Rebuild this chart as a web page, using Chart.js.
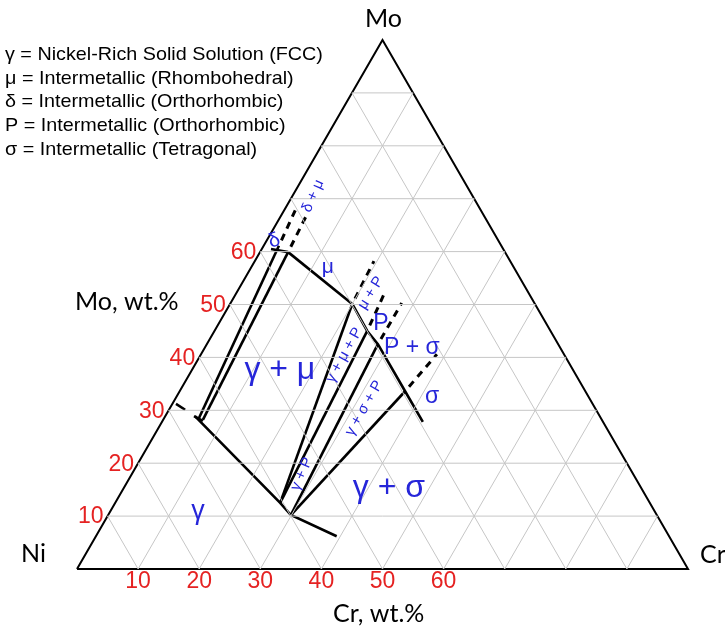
<!DOCTYPE html>
<html>
<head>
<meta charset="utf-8">
<script src="https://cdn.jsdelivr.net/npm/chart.js@4.4.1/dist/chart.umd.min.js"></script>
<style>
html,body{margin:0;padding:0;background:#fff;}
canvas{display:block;}
</style>
</head>
<body>
<canvas id="c" width="725" height="628"></canvas>
<script>
// ---- data (compositions in wt.%: [Cr, Mo]) ----
const crTicks = [10, 20, 30, 40, 50, 60];
const moTicks = [10, 20, 30, 40, 50, 60];
const gridSteps = [10, 20, 30, 40, 50, 60, 70, 80, 90];

const deltaLeft = [[5.7, 28.5], [2.5, 61.1]];
const deltaRight = [[6.5, 28.2], [4.6, 59.9]];
const deltaCap = [[1.5, 60.5], [4.6, 59.9]];
const cornerCap = [[4.7, 28.9], [6.6, 28.0]];
const cornerDash = [[0.6, 31.2], [2.65, 30.1]];
const gammaBoundary = [[4.85, 28.9], [27.0, 12.5], [29.9, 10.2], [39.4, 6.2]];
const muBoundary = [[4.6, 59.9], [20.0, 50.1]];
const pSigmaBoundary = [[20.0, 50.1], [25.0, 45.0], [28.0, 42.5], [36.9, 33.6], [42.7, 27.8]];
const tieGMP1 = [[27.0, 12.5], [20.0, 50.1]];
const tieGMP2 = [[27.0, 12.5], [25.0, 45.0]];
const tieGSP1 = [[29.9, 10.2], [28.0, 42.5]];
const tieGSP2 = [[29.9, 10.2], [36.9, 33.6]];
const dashDeltaL = [[2.5, 61.1], [1.8, 68.0]];
const dashDeltaR = [[4.6, 59.9], [4.1, 67.5]];
const dashMuP = [[20.0, 50.1], [19.5, 58.2]];
const dashP1 = [[25.0, 45.0], [24.2, 52.7]];
const dashP2 = [[28.0, 42.5], [28.0, 50.3]];
const dashSigma = [[36.9, 33.6], [38.6, 40.6]];

const regionText = ['γ + μ', 'γ', 'γ + σ', 'μ', 'δ', 'P', 'P + σ', 'σ', 'δ + μ', 'μ + P', 'γ + μ + P', 'γ + σ + P', 'γ + P'];
const regionAt = [[14.4, 37.6], [14.4, 10.8], [43.4, 15.3], [12.5, 57.1], [1.3, 62.0], [26.6, 46.3], [33.9, 41.8], [41.85, 32.5], [3.4, 70.5], [22.0, 52.2], [23.5, 40.45], [31.8, 30.4], [27.8, 17.96]];

const legendLines = [
  'γ = Nickel-Rich Solid Solution (FCC)',
  'μ = Intermetallic (Rhombohedral)',
  'δ = Intermetallic (Orthorhombic)',
  'P = Intermetallic (Orthorhombic)',
  'σ = Intermetallic (Tetragonal)'
];

// ---- helpers ----
const SQ = Math.sqrt(3) / 2;
function tern(cr, mo) { return { x: cr / 100 + mo / 200, y: (mo / 100) * SQ }; }
function pts(arr) { return arr.map(p => tern(p[0], p[1])); }

const datasets = [];
function addLine(arr, color, width, dash) {
  datasets.push({
    data: pts(arr), showLine: true, borderColor: color, borderWidth: width,
    pointRadius: 0, fill: false, tension: 0, clip: false,
    borderDash: dash || [], borderDashOffset: dash ? dash[0] : 0,
    borderCapStyle: 'butt', borderJoinStyle: 'miter'
  });
}
// grid
const GRID = '#c6c6c6';
gridSteps.forEach(k => {
  addLine([[k, 0], [k, 100 - k]], GRID, 1);          // const Cr
  addLine([[0, k], [100 - k, k]], GRID, 1);          // const Mo
  addLine([[100 - k, 0], [0, 100 - k]], GRID, 1);    // const Ni
});
// triangle
addLine([[0, 0], [100, 0], [0, 100], [0, 0]], '#000', 2);
// phase boundaries
const LW = 2.6;
[deltaLeft, deltaRight, deltaCap, cornerCap, cornerDash, gammaBoundary, muBoundary, pSigmaBoundary,
 tieGMP1, tieGMP2, tieGSP1, tieGSP2].forEach(a => addLine(a, '#000', LW));
[dashDeltaL, dashDeltaR, dashMuP, dashP1, dashP2, dashSigma].forEach(a => addLine(a, '#000', 3, [7, 6]));

const BLUE = '#2626d9';
const RED = '#e52222';
const SANS = '"Liberation Sans", Arial, sans-serif';
const regionStyle = [
  { f: '32px ' + SANS, r: 0 },
  { f: '27px ' + SANS, r: 0 },
  { f: '32px ' + SANS, r: 0 },
  { f: '21px ' + SANS, r: 0 },
  { f: '20px ' + SANS, r: -20 },
  { f: '23px ' + SANS, r: 0 },
  { f: '23px ' + SANS, r: 0 },
  { f: '23px ' + SANS, r: 0 },
  { f: '15px ' + SANS, r: -66 },
  { f: '15px ' + SANS, r: -58 },
  { f: '15px ' + SANS, r: -61 },
  { f: '15px ' + SANS, r: -60 },
  { f: '15px ' + SANS, r: -66 }
];

const textPlugin = {
  id: 'ternText',
  afterDraw(chart) {
    const ctx = chart.ctx, sx = chart.scales.x, sy = chart.scales.y;
    const px = (cr, mo) => { const t = tern(cr, mo); return [sx.getPixelForValue(t.x), sy.getPixelForValue(t.y)]; };
    ctx.save();
    ctx.textBaseline = 'middle';
    // region labels
    regionText.forEach((t, i) => {
      const [x, y] = px(regionAt[i][0], regionAt[i][1]);
      ctx.save();
      ctx.translate(x, y);
      ctx.rotate(regionStyle[i].r * Math.PI / 180);
      ctx.font = regionStyle[i].f;
      ctx.fillStyle = BLUE;
      ctx.textAlign = 'center';
      ctx.fillText(t, 0, 0);
      ctx.restore();
    });
    // tick labels
    ctx.fillStyle = RED;
    ctx.font = '23px ' + SANS;
    ctx.textAlign = 'center';
    crTicks.forEach(v => { const [x, y] = px(v, 0); ctx.fillText(String(v), x, y + 13); });
    ctx.textAlign = 'right';
    moTicks.forEach(v => { const [x, y] = px(0, v); ctx.fillText(String(v), x - 4, y + 1); });
    // vertex & axis titles
    ctx.fillStyle = '#000';
    ctx.font = '25px Lato, ' + SANS;
    ctx.textAlign = 'center';
    const top = px(0, 100);
    ctx.fillText('Mo', top[0] + 1, top[1] - 21);
    const ni = px(0, 0);
    ctx.textAlign = 'right';
    ctx.fillText('Ni', ni[0] - 31, ni[1] - 15);
    const cr = px(100, 0);
    ctx.textAlign = 'left';
    ctx.fillText('Cr', cr[0] + 12, cr[1] - 14);
    ctx.font = '25px Lato, ' + SANS;
    ctx.fillText('Mo, wt.%', 75, 302);
    ctx.fillText('Cr, wt.%', 333, 614);
    // legend
    ctx.font = '19px ' + SANS;
    legendLines.forEach((t, i) => {
      ctx.save();
      ctx.translate(5, 55 + i * 23.6);
      ctx.scale(1.04, 1);
      ctx.fillText(t, 0, 0);
      ctx.restore();
    });
    ctx.restore();
  }
};

new Chart(document.getElementById('c'), {
  type: 'scatter',
  data: { datasets },
  options: {
    responsive: false,
    animation: false,
    layout: { padding: { left: 77, right: 37, top: 40, bottom: 59 } },
    scales: {
      x: { type: 'linear', min: 0, max: 1, display: false },
      y: { type: 'linear', min: 0, max: SQ, display: false }
    },
    plugins: { legend: { display: false }, tooltip: { enabled: false } },
    events: []
  },
  plugins: [textPlugin]
});
</script>
</body>
</html>
